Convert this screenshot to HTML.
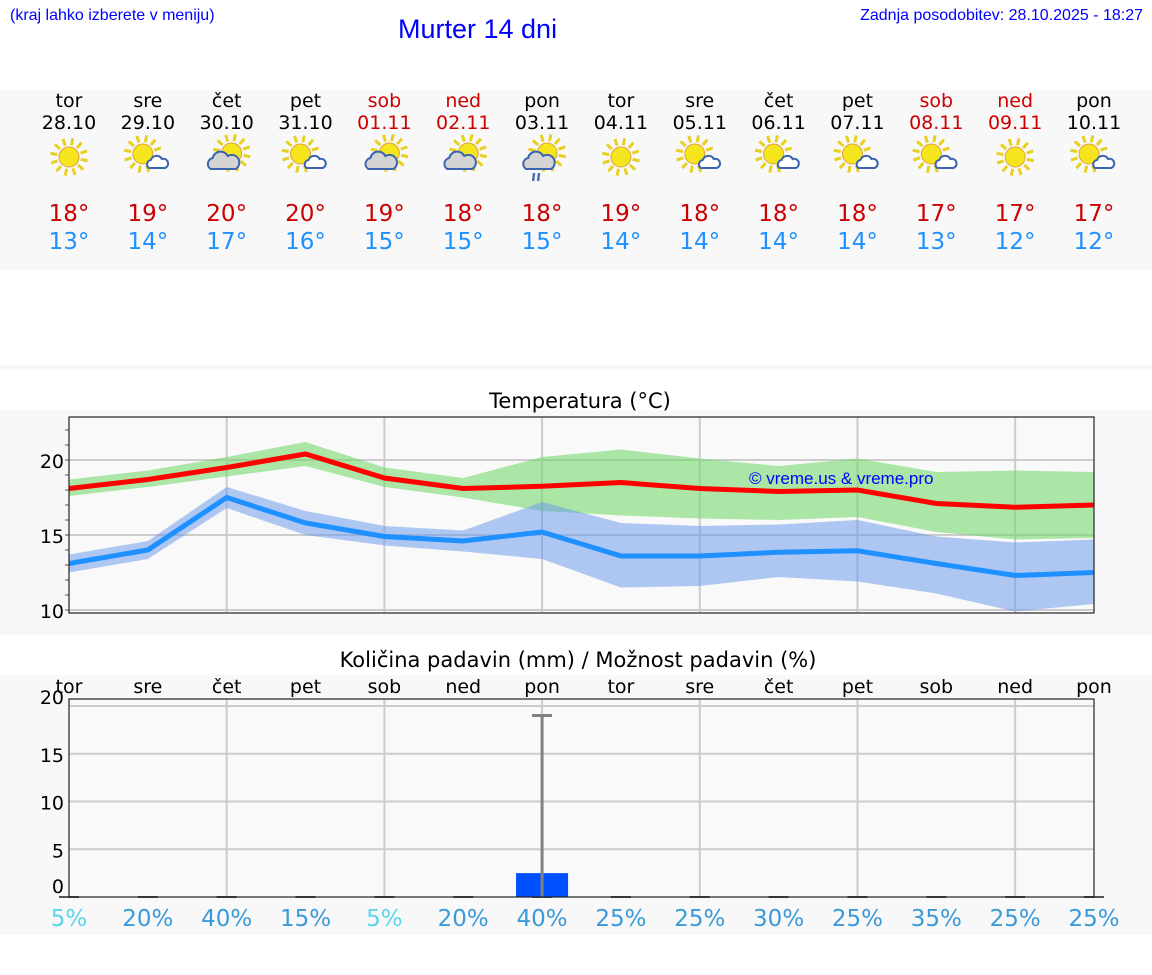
<!DOCTYPE html>
<html><head><meta charset="utf-8">
<style>
body{margin:0;width:1152px;height:975px;background:#fff;position:relative;overflow:hidden;font-family:"DejaVu Sans","Liberation Sans",sans-serif}
.hdr{position:absolute;font-family:"Liberation Sans",sans-serif;color:#0000ff}
</style></head><body>
<div class="hdr" style="left:10px;top:7px;font-size:16px">(kraj lahko izberete v meniju)</div>
<div class="hdr" style="left:398px;top:14px;font-size:27px">Murter 14 dni</div>
<div class="hdr" style="right:9px;top:7px;font-size:16px">Zadnja posodobitev: 28.10.2025 - 18:27</div>
<svg id="chart" width="1152" height="975" style="position:absolute;left:0;top:0" font-family="DejaVu Sans, Liberation Sans, sans-serif"></svg>
<script>
const days=["tor","sre","čet","pet","sob","ned","pon","tor","sre","čet","pet","sob","ned","pon"];
const dates=["28.10","29.10","30.10","31.10","01.11","02.11","03.11","04.11","05.11","06.11","07.11","08.11","09.11","10.11"];
const weekend=[0,0,0,0,1,1,0,0,0,0,0,1,1,0];
const icons=["s","sc","cs","sc","cs","cs","csr","s","sc","sc","sc","sc","s","sc"];
const tmax=[18,19,20,20,19,18,18,19,18,18,18,17,17,17];
const tmin=[13,14,17,16,15,15,15,14,14,14,14,13,12,12];
const maxLine=[18.1,18.7,19.5,20.4,18.8,18.1,18.25,18.5,18.1,17.9,18.0,17.1,16.85,17.0];
const maxHi=[18.7,19.3,20.2,21.2,19.5,18.8,20.2,20.7,20.1,19.6,20.1,19.2,19.3,19.2];
const maxLo=[17.6,18.2,18.9,19.6,18.2,17.5,16.6,16.3,16.1,16.0,16.2,15.2,14.7,14.8];
const minLine=[13.1,14.0,17.5,15.8,14.9,14.6,15.2,13.6,13.6,13.85,13.95,13.1,12.3,12.5];
const minHi=[13.7,14.6,18.2,16.6,15.6,15.3,17.2,15.8,15.6,15.7,16.0,14.9,14.5,14.7];
const minLo=[12.5,13.4,16.8,15.0,14.3,13.9,13.4,11.5,11.6,12.2,11.9,11.1,9.9,10.4];
const rain=[0,0,0,0,0,0,2.5,0,0,0,0,0,0,0];
const rainMax=[0,0,0,0,0,0,19,0,0,0,0,0,0,0];
const prob=[5,20,40,15,5,20,40,25,25,30,25,35,25,25];
const tTicks=[10,15,20];
const rTicks=[5,10,15,20];

const S=document.getElementById('chart');
const NS="http://www.w3.org/2000/svg";
function mk(tag,a,p){const e=document.createElementNS(NS,tag);for(const k in a)e.setAttribute(k,a[k]);(p||S).appendChild(e);return e;}
const X=i=>69+i*(1094-69)/13;
const TY=v=>460+(20-v)*15;
const RY=v=>897-v*9.55;

let e;
e=mk('rect',{x:0,y:90,width:1152,height:180,fill:'#f8f8f8'});

mk('rect',{x:0,y:365,width:1152,height:5,fill:'#f8f8f8'});
e=mk('rect',{x:0,y:410,width:1152,height:225,fill:'#f8f8f8'});

e=mk('rect',{x:0,y:675,width:1152,height:260,fill:'#f8f8f8'});


function icon(g,t,x,y){
  const sun=(cx,cy,r)=>{for(let k=0;k<12;k++){const a=k*Math.PI/6+0.2;mk('line',{x1:cx+Math.cos(a)*(r+2),y1:cy+Math.sin(a)*(r+2),x2:cx+Math.cos(a)*(r+9),y2:cy+Math.sin(a)*(r+9),stroke:'#e8d020','stroke-width':3},g);}
    mk('circle',{cx:cx,cy:cy,r:r,fill:'#f5e51c',stroke:'#e0a040','stroke-width':1},g);};
  if(t==='s'){sun(x,y,10);}
  else if(t==='sc'){sun(x-5,y-3,10);mk('path',{d:`M${x+1},${y+11} a4.5 4.5 0 0 1 2,-8 a6 6 0 0 1 11,-1 a4.5 4.5 0 0 1 3,9 z`,fill:'#fff',stroke:'#3a64b0','stroke-width':2},g);}
  else {sun(x+5,y-4,10);mk('path',{d:`M${x-16},${y+12} a6 6 0 0 1 2,-11 a8 8 0 0 1 15,-2 a6 6 0 0 1 8,13 z`,fill:'#d4d4d4',stroke:'#3a64b0','stroke-width':2},g);
    if(t==='csr'){mk('line',{x1:x-8,y1:y+16,x2:x-9,y2:y+24,stroke:'#5070b0','stroke-width':2.5},g);mk('line',{x1:x-3,y1:y+16,x2:x-4,y2:y+24,stroke:'#5070b0','stroke-width':2.5},g);}}
}

for(let i=0;i<14;i++){
  const x=X(i),col=weekend[i]?'#cc0000':'#000';
  e=mk('text',{x:x,y:107,'text-anchor':'middle','font-size':19,fill:col});e.textContent=days[i];
  
  e=mk('text',{x:x,y:129,'text-anchor':'middle','font-size':19,fill:col});e.textContent=dates[i];
  
  const g=mk('g',{});
  
  icon(g,icons[i],x,157);
  e=mk('text',{x:x,y:221,'text-anchor':'middle','font-size':23,fill:'#cc0000'});e.textContent=tmax[i]+'°';
  
  e=mk('text',{x:x,y:249,'text-anchor':'middle','font-size':23,fill:'#1e90ff'});e.textContent=tmin[i]+'°';
  
}

e=mk('text',{x:580,y:408,'text-anchor':'middle','font-size':21,fill:'#000'});e.textContent='Temperatura (°C)';

mk('rect',{x:69,y:417,width:1025,height:196,fill:'#f9f9f9'});
const gT=mk('g',{});
for(const v of tTicks){mk('line',{x1:69,x2:1094,y1:TY(v),y2:TY(v),stroke:'#ccc','stroke-width':2},gT);
  e=mk('text',{x:64,y:TY(v)+8,'text-anchor':'end','font-size':19,fill:'#000'},gT);e.textContent=v;
  }
for(let v=10;v<=22;v++)mk('line',{x1:65,x2:69,y1:TY(v),y2:TY(v),stroke:'#555','stroke-width':1},gT);
for(let i=2;i<14;i+=2)mk('line',{x1:X(i),x2:X(i),y1:417,y2:613,stroke:'#ccc','stroke-width':2},gT);
function band(hi,lo,fill,name){let d='M'+hi.map((v,i)=>X(i)+','+TY(v)).join('L')+'L'+lo.map((v,i)=>X(i)+','+TY(v)).reverse().join('L')+'Z';
  const p=mk('path',{d:d,fill:fill});}
function line(a,col,name){const p=mk('polyline',{points:a.map((v,i)=>X(i)+','+TY(v)).join(' '),fill:'none',stroke:col,'stroke-width':5});}
band(maxHi,maxLo,'rgba(110,215,100,0.55)','max-temp-range');
band(minHi,minLo,'rgba(100,150,235,0.5)','min-temp-range');
line(maxLine,'#ff0000','max-temp-line');
line(minLine,'#1e90ff','min-temp-line');
e=mk('text',{x:749,y:484,'font-size':17,fill:'#0000ff','font-family':'Liberation Sans, sans-serif'});e.textContent='© vreme.us & vreme.pro';

mk('rect',{x:69,y:417,width:1025,height:196,fill:'none',stroke:'#222','stroke-width':1.2});

e=mk('text',{x:578,y:667,'text-anchor':'middle','font-size':21,fill:'#000'});e.textContent='Količina padavin (mm) / Možnost padavin (%)';

mk('rect',{x:69,y:699,width:1025,height:198,fill:'#f9f9f9'});
for(const v of rTicks){mk('line',{x1:69,x2:1094,y1:RY(v),y2:RY(v),stroke:'#ccc','stroke-width':2});
  e=mk('text',{x:64,y:(v===20?704:RY(v)+8),'text-anchor':'end','font-size':19,fill:'#000'});e.textContent=v;
  }
e=mk('text',{x:64,y:893,'text-anchor':'end','font-size':19,fill:'#000'});e.textContent='0';
for(let i=2;i<14;i+=2)mk('line',{x1:X(i),x2:X(i),y1:699,y2:897,stroke:'#ccc','stroke-width':2});
for(let i=0;i<14;i++){
  const x=X(i);
  e=mk('text',{x:x,y:693,'text-anchor':'middle','font-size':19,fill:'#000'});e.textContent=days[i];
  
  mk('line',{x1:x-10,x2:x+10,y1:897,y2:897,stroke:'#555','stroke-width':2});
  if(rain[i]>0){const b=mk('rect',{x:x-26,y:RY(rain[i]),width:52,height:897-RY(rain[i]),fill:'#0050ff'});
    }
  if(rainMax[i]>0){mk('line',{x1:x,x2:x,y1:RY(rainMax[i]),y2:897,stroke:'#808080','stroke-width':3});
    mk('line',{x1:x-10,x2:x+10,y1:RY(rainMax[i]),y2:RY(rainMax[i]),stroke:'#808080','stroke-width':3});}
  e=mk('text',{x:x,y:926,'text-anchor':'middle','font-size':23,fill:prob[i]<=5?'#5bd5e8':'#3a9ad9'});e.textContent=prob[i]+'%';
  
}
mk('rect',{x:69,y:699,width:1025,height:198,fill:'none',stroke:'#222','stroke-width':1.2});
</script>
</body></html>
